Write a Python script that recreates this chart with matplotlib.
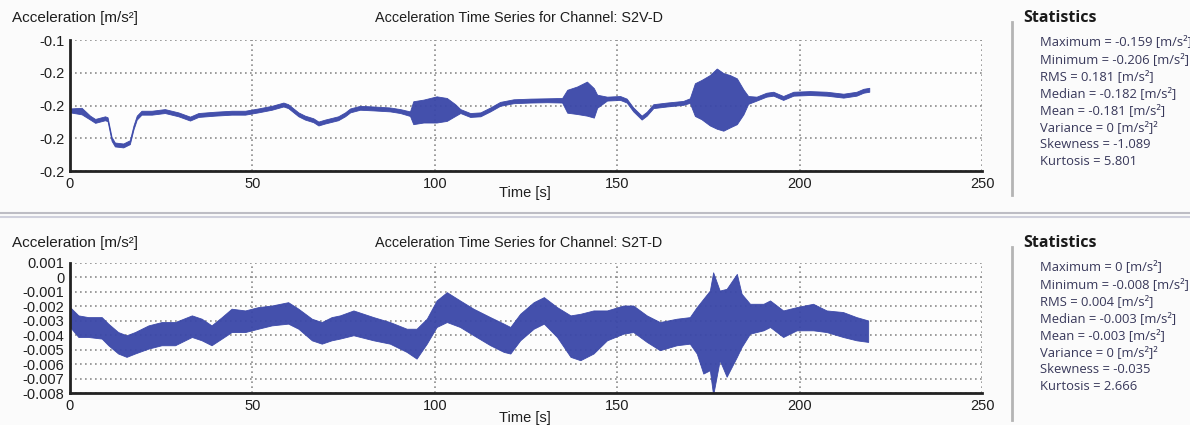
import numpy as np
import matplotlib.pyplot as plt

# --- S2V-D (top): centre line and half-width of the trace band
t_top = [0, 3.2, 5.5, 6.9, 9.6, 10.3, 11.4, 12.3, 14.6, 16.4, 17.4, 18.3, 19.6, 22.4, 26.0,
         29.7, 32.9, 35.2, 39.7, 44.3, 48.0, 51.6, 55.3, 58.5, 59.8, 62.6, 64.4, 66.7, 68.1,
         69.9, 73.5, 75.4, 76.8, 79.5, 83.2, 87.7, 90.5, 93.2, 94.1, 96.9, 100.5, 103.3, 105.6,
         107.0, 109.7, 112.5, 115.2, 117.9, 121.6, 126.2, 130.8, 134.9, 136.3, 139.0, 141.7,
         143.6, 144.5, 147.2, 150.8, 152.6, 154.4, 156.7, 158.1, 159.9, 163.6, 168.1, 169.9,
         171.3, 173.1, 175.4, 177.3, 179.1, 180.9, 182.8, 184.6, 185.9, 188.2, 190.9, 192.8,
         195.5, 198.3, 202.8, 207.4, 212.0, 215.6, 217.5, 219.1]
c_top = [-0.1830, -0.1834, -0.1874, -0.1894, -0.1878, -0.1884, -0.2004, -0.2038, -0.2044,
         -0.2024, -0.1934, -0.1874, -0.1844, -0.1844, -0.1834, -0.1854, -0.1880, -0.1858,
         -0.1850, -0.1844, -0.1844, -0.1830, -0.1814, -0.1794, -0.1804, -0.1854, -0.1874,
         -0.1890, -0.1910, -0.1898, -0.1878, -0.1854, -0.1830, -0.1814, -0.1818, -0.1824,
         -0.1834, -0.1850, -0.1844, -0.1834, -0.1824, -0.1824, -0.1828, -0.1834, -0.1858,
         -0.1854, -0.1824, -0.1790, -0.1774, -0.1770, -0.1768, -0.1768, -0.1774, -0.1768,
         -0.1758, -0.1784, -0.1774, -0.1758, -0.1754, -0.1770, -0.1824, -0.1874, -0.1850,
         -0.1804, -0.1794, -0.1784, -0.1770, -0.1764, -0.1764, -0.1768, -0.1758, -0.1778,
         -0.1774, -0.1774, -0.1778, -0.1766, -0.1758, -0.1734, -0.1728, -0.1754, -0.1728,
         -0.1724, -0.1728, -0.1740, -0.1728, -0.1710, -0.1704]
s_top = [12, 20, 12, 12, 12, 12, 12, 12, 12, 12, 12, 12, 12, 12, 12, 12, 12, 12, 12, 12,
         12, 12, 12, 12, 12, 12, 12, 12, 12, 12, 12, 12, 12, 12, 12, 12, 12, 14, 70, 70,
         80, 70, 36, 12, 12, 12, 12, 12, 12, 12, 12, 14, 70, 84, 104, 90, 40, 12, 12, 12,
         12, 12, 12, 12, 12, 12, 14, 100, 120, 154, 184, 176, 160, 140, 76, 24, 12, 12, 12,
         12, 12, 12, 12, 12, 12, 12, 12]  # x 1e-4 m/s²

# --- S2T-D (bottom): upper / lower edge of the trace band (x 1e-3 m/s²)
t_bot = [0.0, 2.3, 5.0, 8.7, 10.5, 13.2, 15.5, 17.8, 21.5, 25.1, 28.8, 33.4, 36.1, 38.8,
         41.6, 44.3, 48.0, 51.6, 55.3, 59.8, 62.6, 66.3, 69.0, 71.7, 74.0, 77.7, 83.2, 87.7,
         92.3, 95.0, 97.8, 100.5, 103.3, 106.9, 110.6, 115.2, 118.9, 120.7, 123.4, 127.1,
         129.9, 133.5, 137.2, 139.9, 143.5, 147.2, 151.7, 154.4, 158.1, 161.7, 166.3, 169.9,
         171.8, 173.6, 175.4, 176.3, 178.1, 180.0, 182.8, 184.1, 186.4, 190.1, 191.9, 195.5,
         199.2, 203.7, 207.4, 211.9, 215.6, 218.8]
hi_bot = [-2.06, -2.63, -2.75, -2.75, -3.20, -3.78, -4.00, -3.78, -3.32, -3.09, -3.09, -2.63,
          -2.86, -3.32, -2.75, -2.17, -2.29, -2.06, -1.95, -1.72, -2.17, -2.86, -3.09, -2.75,
          -2.63, -2.29, -2.75, -3.09, -3.55, -3.55, -2.86, -1.60, -1.03, -1.60, -2.17, -2.75,
          -3.20, -3.43, -2.52, -1.72, -1.37, -2.06, -2.63, -2.52, -2.29, -2.29, -1.95, -1.95,
          -2.63, -3.09, -2.86, -2.75, -2.06, -1.49, -0.92, 0.34, -0.92, -0.80, 0.23, -1.14,
          -1.83, -1.83, -1.60, -2.29, -2.06, -1.83, -2.29, -2.40, -2.75, -2.98]
lo_bot = [-3.43, -4.12, -4.12, -4.23, -4.69, -5.26, -5.49, -5.26, -4.92, -4.69, -4.69, -4.12,
          -4.35, -4.69, -4.23, -3.78, -3.78, -3.55, -3.32, -3.20, -3.55, -4.35, -4.58, -4.35,
          -4.23, -4.00, -4.35, -4.58, -5.15, -5.61, -4.58, -3.43, -3.09, -3.43, -4.00, -4.69,
          -5.15, -5.26, -4.35, -3.55, -3.20, -4.12, -5.49, -5.72, -5.26, -4.35, -3.89, -3.78,
          -4.46, -5.03, -4.69, -4.58, -5.26, -6.64, -6.41, -8.12, -5.72, -6.86, -5.49, -4.81,
          -3.89, -3.66, -3.43, -4.12, -3.66, -3.66, -3.78, -4.12, -4.35, -4.46]

x_ticks = [0, 50, 100, 150, 200, 250]
top_yticks = [-0.22, -0.20, -0.18, -0.16, -0.14]
top_ylabels = ['-0.2', '-0.2', '-0.2', '-0.2', '-0.1']
bot_yticks = [-0.008, -0.007, -0.006, -0.005, -0.004, -0.003, -0.002, -0.001, 0, 0.001]
bot_ylabels = ['-0.008', '-0.007', '-0.006', '-0.005', '-0.004', '-0.003', '-0.002',
               '-0.001', '0', '0.001']

channels = ['S2V-D', 'S2T-D']
stats = [
    ['Maximum = -0.159 [m/s²]', 'Minimum = -0.206 [m/s²]', 'RMS = 0.181 [m/s²]',
     'Median = -0.182 [m/s²]', 'Mean = -0.181 [m/s²]', 'Variance = 0 [m/s²]²',
     'Skewness = -1.089', 'Kurtosis = 5.801'],
    ['Maximum = 0 [m/s²]', 'Minimum = -0.008 [m/s²]', 'RMS = 0.004 [m/s²]',
     'Median = -0.003 [m/s²]', 'Mean = -0.003 [m/s²]', 'Variance = 0 [m/s²]²',
     'Skewness = -0.035', 'Kurtosis = 2.666'],
]

W, H = 1190, 425
TRACE = '#3a47a8'
plt.rcParams['font.family'] = ['Liberation Sans', 'DejaVu Sans']


def fx(px):
    return px / W


def fy(py):
    return 1 - py / H


fig = plt.figure(figsize=(W / 100, H / 100), dpi=100, facecolor='#fbfbfb')

ax_top = fig.add_axes([fx(70), fy(171), fx(912), 131 / H])
ax_bot = fig.add_axes([fx(70), fy(393.3), fx(912), 130.6 / H])

t = np.array(t_top)
c = np.array(c_top)
s = np.array(s_top) * 1e-4
ax_top.fill_between(t, c - s, c + s, color=TRACE, lw=0.6, edgecolor=TRACE, alpha=0.95)
ax_top.set_ylim(-0.22, -0.14)
ax_top.set_yticks(top_yticks)
ax_top.set_yticklabels(top_ylabels)

tb = np.array(t_bot)
ax_bot.fill_between(tb, np.array(lo_bot) * 1e-3, np.array(hi_bot) * 1e-3,
                    color=TRACE, lw=0.6, edgecolor=TRACE, alpha=0.95)
ax_bot.set_ylim(-0.008, 0.001)
ax_bot.set_yticks(bot_yticks)
ax_bot.set_yticklabels(bot_ylabels)

for ax in (ax_top, ax_bot):
    ax.set_facecolor('#fdfdfd')
    ax.set_xlim(0, 250)
    ax.set_xticks(x_ticks)
    ax.spines['top'].set_visible(False)
    ax.spines['right'].set_visible(False)
    for side in ('left', 'bottom'):
        ax.spines[side].set_linewidth(2)
        ax.spines[side].set_color('#222222')
    ax.tick_params(length=0, pad=4, labelsize=10.5, colors='#1e1e1e')
    ax.grid(True, color='#8c8c8c', linestyle=(0, (1, 2)), linewidth=1.2)
    ax.set_axisbelow(True)

# header texts, x label, statistics panels
for i, top in enumerate((0, 225)):
    fig.text(fx(12), fy(top + 18), 'Acceleration [m/s²]', fontsize=11, color='#1e1e1e',
             va='center', ha='left')
    fig.text(fx(519), fy(top + 18), f'Acceleration Time Series for Channel: {channels[i]}',
             fontsize=10.4, color='#1e1e1e', va='center', ha='center')
    fig.text(fx(525), fy(top + 193), 'Time [s]', fontsize=10.5, color='#1e1e1e',
             va='center', ha='center')
    fig.text(fx(1023), fy(top + 18), 'Statistics', fontsize=11.5, fontweight='bold',
             color='#1a1a1a', va='center', ha='left', family=['Open Sans', 'DejaVu Sans'])
    for j, line in enumerate(stats[i]):
        fig.text(fx(1040), fy(top + 42 + j * 17.1), line, fontsize=9.4, color='#38385a',
                 va='center', ha='left', family=['Open Sans', 'DejaVu Sans'])
    fig.add_artist(plt.Line2D([fx(1012), fx(1012)], [fy(top + 22), fy(top + 195)],
                              color='#b4b4b4', lw=2))

fig.add_artist(plt.Line2D([0, 1], [fy(213), fy(213)], color='#bdbdc4', lw=1.5))
fig.add_artist(plt.Line2D([0, 1], [fy(217.5), fy(217.5)], color='#cfd0dc', lw=1.5))

fig.savefig('out.png', dpi=100, facecolor=fig.get_facecolor())
